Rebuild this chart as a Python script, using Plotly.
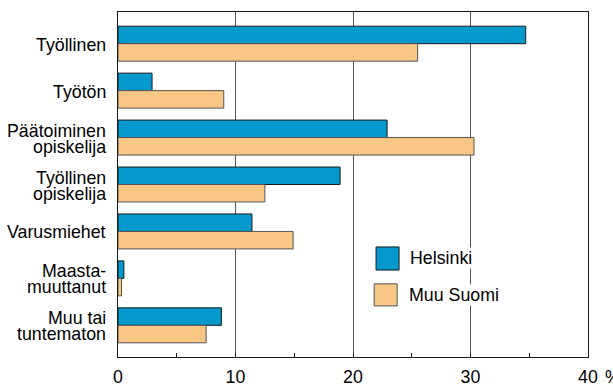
import plotly.graph_objects as go

categories = ["Työllinen", "Työtön", "Päätoiminen<br>opiskelija", "Työllinen<br>opiskelija",
              "Varusmiehet", "Maasta-<br>muuttanut", "Muu tai<br>tuntematon"]
helsinki = [34.7, 2.9, 22.9, 18.9, 11.4, 0.5, 8.8]
muu_suomi = [25.5, 9.0, 30.3, 12.5, 14.9, 0.3, 7.5]
x_ticks = [0, 10, 20, 30, 40]
series_names = ["Helsinki", "Muu Suomi"]

BLUE = "#0399CD"
ORANGE = "#F8C785"
FONT = "Liberation Sans, Arial, sans-serif"
FS = 17.8

fig = go.Figure()
fig.add_trace(go.Bar(y=categories, x=helsinki, orientation="h", name=series_names[0],
                     marker=dict(color=BLUE, line=dict(color="#1a1a1a", width=1))))
fig.add_trace(go.Bar(y=categories, x=muu_suomi, orientation="h", name=series_names[1],
                     marker=dict(color=ORANGE, line=dict(color="#555555", width=1))))

annotations = []
# y-axis category labels, each line separately for tight leading
for i, cat in enumerate(categories):
    lines = cat.split("<br>")
    n = len(lines)
    for j, ln in enumerate(lines):
        shift = (n - 1) * 8 - j * 16
        annotations.append(dict(x=0, xref="paper", y=i, yref="y", text=ln, showarrow=False,
                                xanchor="right", yanchor="middle", xshift=-10, yshift=shift - 1,
                                font=dict(size=FS, color="black", family=FONT)))

# legend
annotations.append(dict(x=0.619, y=0.287, xref="paper", yref="paper", text=series_names[0],
                        showarrow=False, xanchor="left", yanchor="middle", bgcolor="white",
                        borderpad=0, font=dict(size=FS, color="black", family=FONT)))
annotations.append(dict(x=0.617, y=0.180, xref="paper", yref="paper", text=series_names[1],
                        showarrow=False, xanchor="left", yanchor="middle", bgcolor="white",
                        borderpad=0, font=dict(size=FS, color="black", family=FONT)))
annotations.append(dict(x=1.032, y=-0.058, xref="paper", yref="paper", text="%",
                        showarrow=False, xanchor="left", yanchor="middle",
                        font=dict(size=FS, color="black", family=FONT)))

shapes = [
    dict(type="rect", xref="paper", yref="paper", x0=0.549, x1=0.598, y0=0.252, y1=0.319,
         fillcolor=BLUE, line=dict(color="#1a1a1a", width=1)),
    dict(type="rect", xref="paper", yref="paper", x0=0.545, x1=0.594, y0=0.148, y1=0.212,
         fillcolor=ORANGE, line=dict(color="#555555", width=1)),
]

fig.update_layout(
    width=613, height=385,
    margin=dict(l=118, r=25, t=12, b=28, autoexpand=False),
    paper_bgcolor="white", plot_bgcolor="white",
    barmode="group", bargap=0.255, bargroupgap=0,
    showlegend=False,
    font=dict(family=FONT, size=FS, color="black"),
    annotations=annotations, shapes=shapes,
)
fig.update_xaxes(
    range=[0, 40], tickvals=x_ticks, ticktext=[str(v) for v in x_ticks],
    automargin=False, ticklabelstandoff=4,
    showgrid=True, gridcolor="#555555", gridwidth=1,
    showline=True, linecolor="#1a1a1a", linewidth=1, mirror=True,
    ticks="inside", ticklen=4, tickcolor="#1a1a1a",
    minor=dict(dtick=5, tick0=0, ticks="inside", ticklen=4, tickcolor="#1a1a1a", showgrid=False),
    tickfont=dict(size=FS, color="black", family=FONT), zeroline=False,
)
fig.update_yaxes(
    type="category", range=[6.675, -0.675], showticklabels=False, automargin=False,
    showline=True, linecolor="#1a1a1a", linewidth=1, mirror=True,
    showgrid=False, ticks="",
)

fig.write_html("out.html", config={"displayModeBar": False},
               post_script="document.body.style.margin='0';document.body.style.overflow='hidden';")
